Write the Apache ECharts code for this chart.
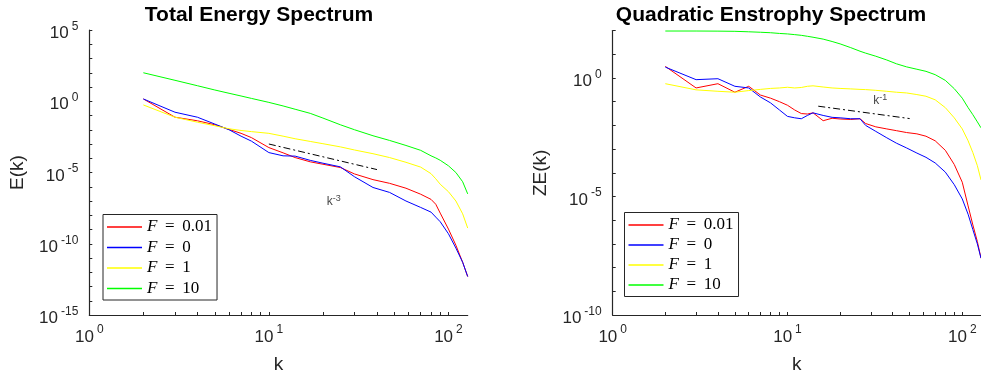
<!DOCTYPE html>
<html>
<head>
<meta charset="utf-8">
<script src="https://cdn.jsdelivr.net/npm/echarts@6/dist/echarts.min.js"></script>
<style>
  html, body { margin: 0; padding: 0; background: #fff; }
  #chart { width: 981px; height: 379px; }
</style>
</head>
<body>
<div id="chart"></div>
<script>
// ---- Total energy spectrum E(k) ----
const kEnergy = [2, 3, 4, 5, 6, 7, 8, 10, 12, 14, 17, 20, 25, 30, 38, 47, 58, 70, 80, 85, 90, 100, 110, 120, 128];
const energyF001 = [1.45, 0.0759, 0.0427, 0.0224, 0.0105, 5.6e-3, 2.8e-3, 5.6e-4, 2.4e-4, 1.12e-4, 5.6e-5, 3.8e-5, 2.24e-5, 7.9e-6, 3.16e-6, 1.74e-6, 7.9e-7, 3.0e-7, 1.3e-7, 5.9e-8, 1.41e-8, 1.07e-9, 7.9e-11, 5.0e-12, 5.0e-13];
const energyF0 = [1.45, 0.17, 0.0759, 0.0251, 0.01, 3.55e-3, 1.58e-3, 2.5e-4, 1.48e-4, 1.41e-4, 7.1e-5, 4.5e-5, 2.5e-5, 5.0e-6, 8.9e-7, 4.0e-7, 1.0e-7, 3.55e-8, 1.66e-8, 7.4e-9, 3.5e-9, 5.0e-10, 5.0e-11, 5.0e-12, 5.0e-13];
const energyF1 = [0.55, 0.0759, 0.0339, 0.0191, 0.0117, 8.9e-3, 7.4e-3, 5.6e-3, 3.55e-3, 2.34e-3, 1.51e-3, 1.05e-3, 6.3e-4, 3.8e-4, 2.09e-4, 1.12e-4, 5.2e-5, 2.4e-5, 8.3e-6, 3.6e-6, 1.5e-6, 4.5e-7, 1.0e-7, 1.26e-8, 1.26e-9];
const energyF10 = [100, 29.5, 12.3, 6.17, 3.63, 2.34, 1.58, 0.832, 0.468, 0.275, 0.141, 0.0661, 0.0224, 0.01, 3.8e-3, 1.78e-3, 7.9e-4, 3.6e-4, 1.48e-4, 1.05e-4, 7.2e-5, 2.95e-5, 1.0e-5, 2.24e-6, 3.16e-7];
// k^-3 guide line (end points) and its label position
const energyGuide = [[10, 1.0e-3], [40, 1.6e-5]];
const energyGuideLabel = [[23, 9.6e-8]];

// ---- Quadratic enstrophy spectrum ZE(k) ----
const kEnstrophy = [2, 3, 4, 5, 6, 7, 8, 9, 10, 11, 12, 13, 14, 16, 18, 20, 23, 26, 28, 32, 37, 42, 48, 55, 62, 70, 80, 90, 100, 108, 115, 122, 128];
const enstrophyF001 = [3.09, 0.38, 0.575, 0.251, 0.447, 0.191, 0.141, 0.1, 0.0708, 0.0447, 0.0316, 0.0302, 0.0339, 0.0158, 0.02, 0.0186, 0.0178, 0.0191, 0.012, 8.7e-3, 7.1e-3, 6.0e-3, 5.0e-3, 4.4e-3, 3.5e-3, 2.24e-3, 8.9e-4, 2.24e-4, 4.0e-5, 4.0e-6, 6.3e-7, 1.26e-7, 2.5e-8];
const enstrophyF0 = [2.88, 0.851, 0.933, 0.447, 0.38, 0.158, 0.0891, 0.0447, 0.024, 0.0209, 0.0191, 0.0263, 0.0339, 0.0263, 0.0219, 0.0209, 0.0191, 0.0191, 0.01, 5.6e-3, 3.0e-3, 1.78e-3, 1.12e-3, 6.8e-4, 4.5e-4, 2.6e-4, 1.07e-4, 3.16e-5, 7.9e-6, 1.78e-6, 4.0e-7, 1.0e-7, 2.5e-8];
const enstrophyF1 = [0.575, 0.316, 0.275, 0.251, 0.295, 0.331, 0.363, 0.38, 0.407, 0.38, 0.398, 0.447, 0.468, 0.417, 0.38, 0.363, 0.347, 0.331, 0.324, 0.302, 0.275, 0.251, 0.234, 0.2, 0.17, 0.12, 0.0562, 0.0209, 7.1e-3, 2.24e-3, 7.1e-4, 2.0e-4, 5.0e-5];
const enstrophyF10 = [96, 96, 95, 93.3, 89.1, 85.1, 81.3, 75.9, 72.4, 67.6, 63.1, 57.5, 52.5, 43.7, 34.7, 27.5, 19.1, 13.5, 11.2, 8.3, 5.75, 3.98, 2.95, 2.34, 1.91, 1.38, 0.794, 0.355, 0.141, 0.0562, 0.0282, 0.0141, 7.9e-3];
// k^-1 guide line (end points) and its label position
const enstrophyGuide = [[15, 0.0646], [50, 0.0194]];
const enstrophyGuideLabel = [[34, 0.112]];

// ---- Legend names and colours ----
const forcingNames = ['F = 0.01', 'F = 0', 'F = 1', 'F = 10'];
const forcingColors = ['#ff0000', '#0000ff', '#ffff00', '#00ff00'];

// ---- Axis ticks ----
const kTicks = [1, 2, 3, 4, 5, 6, 7, 8, 9, 10, 20, 30, 40, 50, 60, 70, 80, 90, 100];
const kLabels = [1, 10, 100];
const energyTicks = [1e-15, 1e-14, 1e-13, 1e-12, 1e-11, 1e-10, 1e-9, 1e-8, 1e-7, 1e-6, 1e-5, 1e-4, 1e-3, 1e-2, 1e-1, 1, 10, 100, 1e3, 1e4, 1e5];
const energyLabels = [1e-15, 1e-10, 1e-5, 1, 1e5];
const enstrophyTicks = [1e-10, 1e-9, 1e-8, 1e-7, 1e-6, 1e-5, 1e-4, 1e-3, 1e-2, 1e-1, 1, 10, 100];
const enstrophyLabels = [1e-10, 1e-5, 1];

const zip = (xs, ys) => xs.map((x, i) => [x, ys[i]]);

const AXIS_COLOR = '#262626';
const FONT = 'Liberation Sans, Arial, sans-serif';

// "10" with a raised exponent
const powerRich = {
  b: { fontSize: 17, fontFamily: FONT, color: AXIS_COLOR, lineHeight: 26 },
  e: { fontSize: 12, fontFamily: FONT, color: AXIS_COLOR, verticalAlign: 'top', lineHeight: 12, padding: [0, 0, 0, 3] }
};
const powerLabel = v => '{b|10}{e|' + Math.round(Math.log10(v)) + '}';

function xAxisFor(gridIndex) {
  return {
    type: 'log', logBase: 10, gridIndex, min: 1, max: 128,
    name: 'k', nameLocation: 'middle', nameGap: 40,
    nameTextStyle: { fontSize: 19, fontFamily: FONT, color: AXIS_COLOR },
    axisLine: { show: true, lineStyle: { color: AXIS_COLOR, width: 1.2 } },
    axisTick: { show: true, inside: true, length: 3, customValues: kTicks, lineStyle: { color: AXIS_COLOR } },
    axisLabel: { customValues: kLabels, margin: 9, formatter: powerLabel, rich: powerRich },
    splitLine: { show: false }
  };
}

function yAxisFor(gridIndex, min, max, ticks, labels, name, gap) {
  return {
    type: 'log', logBase: 10, gridIndex, min, max,
    name, nameLocation: 'middle', nameGap: gap,
    nameTextStyle: { fontSize: 19, fontFamily: FONT, color: AXIS_COLOR },
    axisLine: { show: true, lineStyle: { color: AXIS_COLOR, width: 1.2 } },
    axisTick: { show: true, inside: true, length: 3, customValues: ticks, lineStyle: { color: AXIS_COLOR } },
    axisLabel: { customValues: labels, margin: 11, padding: [7, 0, 0, 0], formatter: powerLabel, rich: powerRich },
    splitLine: { show: false }
  };
}

function spectrumSeries(name, color, k, values, axisIndex) {
  return {
    name, type: 'line', xAxisIndex: axisIndex, yAxisIndex: axisIndex,
    data: zip(k, values), showSymbol: false, symbol: 'none', smooth: false,
    lineStyle: { color, width: 1 }, itemStyle: { color },
    emphasis: { disabled: true }
  };
}

function guideSeries(points, axisIndex) {
  return {
    name: 'guide' + axisIndex, type: 'line', xAxisIndex: axisIndex, yAxisIndex: axisIndex,
    data: points, showSymbol: false, symbol: 'none',
    lineStyle: { color: '#000', width: 1, type: [7, 3, 2, 3] }, emphasis: { disabled: true }
  };
}

function guideLabel(point, exponent, axisIndex) {
  return {
    name: 'guideLabel' + axisIndex, type: 'scatter', xAxisIndex: axisIndex, yAxisIndex: axisIndex,
    data: point, symbolSize: 0, silent: true,
    label: {
      show: true, position: 'inside', formatter: '{k|k}{s|' + exponent + '}',
      rich: {
        k: { fontSize: 12, fontFamily: FONT, color: '#111', lineHeight: 15 },
        s: { fontSize: 9, fontFamily: FONT, color: '#111', verticalAlign: 'top', lineHeight: 10 }
      }
    }
  };
}

function legendFor(left, top, names, gap) {
  return {
    orient: 'vertical', left, top, data: names, selectedMode: false,
    icon: 'rect', itemWidth: 35, itemHeight: 1.3, itemGap: gap,
    padding: [4, 5, 3, 4],
    borderColor: AXIS_COLOR, borderWidth: 1, backgroundColor: '#fff',
    formatter: n => '{i|F}{t| \u2009=\u2009 ' + n.split('= ')[1] + '}',
    textStyle: {
      rich: {
        i: { fontSize: 17, fontFamily: 'Liberation Serif, serif', fontStyle: 'italic', color: '#000', lineHeight: 18 },
        t: { fontSize: 17, fontFamily: 'Liberation Serif, serif', color: '#000', lineHeight: 18 }
      }
    }
  };
}

const energySets = [energyF001, energyF0, energyF1, energyF10];
const enstrophySets = [enstrophyF001, enstrophyF0, enstrophyF1, enstrophyF10];

const series = [];
forcingNames.forEach((n, i) => series.push(spectrumSeries(n, forcingColors[i], kEnergy, energySets[i], 0)));
series.push(guideSeries(energyGuide, 0), guideLabel(energyGuideLabel, '-3', 0));
forcingNames.forEach((n, i) => series.push(spectrumSeries(n, forcingColors[i], kEnstrophy, enstrophySets[i], 1)));
series.push(guideSeries(enstrophyGuide, 1), guideLabel(enstrophyGuideLabel, '-1', 1));

const chart = echarts.init(document.getElementById('chart'), null, { renderer: 'canvas' });
chart.setOption({
  animation: false,
  backgroundColor: '#fff',
  title: [
    { text: 'Total Energy Spectrum', left: 254, top: 0, textAlign: 'center',
      textStyle: { fontSize: 21, fontWeight: 'bold', fontFamily: FONT, color: '#000' } },
    { text: 'Quadratic Enstrophy Spectrum', left: 766, top: 0, textAlign: 'center',
      textStyle: { fontSize: 21, fontWeight: 'bold', fontFamily: FONT, color: '#000' } }
  ],
  grid: [
    { left: 89.3, top: 30, width: 378.4, height: 286.7, containLabel: false },
    { left: 612.7, top: 30.6, width: 369.4, height: 286.1, containLabel: false }
  ],
  xAxis: [xAxisFor(0), xAxisFor(1)],
  yAxis: [
    yAxisFor(0, 1e-15, 1e5, energyTicks, energyLabels, 'E(k)', 62),
    yAxisFor(1, 1e-10, 100, enstrophyTicks, enstrophyLabels, 'ZE(k)', 62)
  ],
  legend: [legendFor(103, 214.5, forcingNames, 3.5), legendFor(624.5, 212.5, forcingNames, 3)],
  series
});
</script>
</body>
</html>
